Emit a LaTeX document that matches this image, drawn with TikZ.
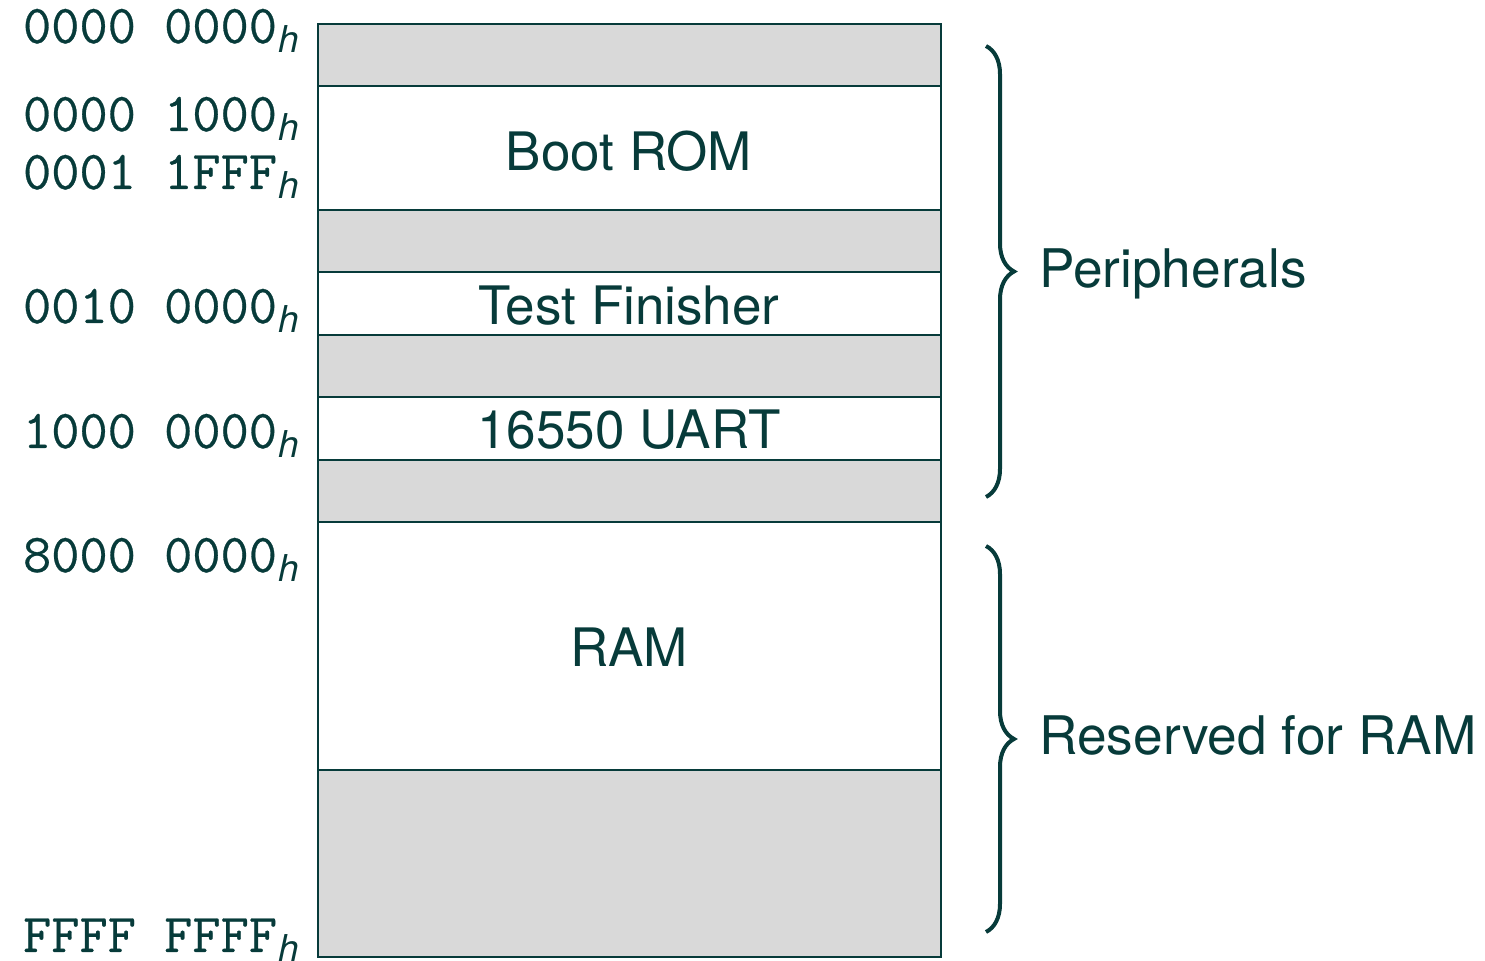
\documentclass[tikz,border=0pt]{standalone}
\usepackage{fontspec}
\setmainfont{TeX Gyre Heros}
\setmonofont{Latin Modern Mono}[FakeBold=0.5]
\usetikzlibrary{decorations.pathreplacing}
\definecolor{teal}{HTML}{073B3A}
\definecolor{gap}{HTML}{D9D9D9}
\newcommand{\hsub}{\kern0.5pt\raisebox{-5pt}{\fontsize{18.5}{20}\rmfamily\itshape\selectfont h}}
\tikzset{
  mem/.style={draw=teal, line width=1pt, anchor=north west, inner sep=0pt, outer sep=0pt, minimum width=311.5pt},
  freebox/.style={mem, fill=gap},
  usedbox/.style={mem, fill=white},
  addr/.style={anchor=base east, inner sep=0pt, text=teal, font=\fontsize{27.4}{30}\selectfont\ttfamily},
  lbl/.style={anchor=base, inner sep=0pt, text=teal, font=\fontsize{26.5}{30}\selectfont},
  side/.style={anchor=base west, inner sep=0pt, text=teal, font=\fontsize{26.6}{30}\selectfont},
  br/.style={draw=teal, line width=2pt, decorate, decoration={brace, amplitude=14pt}}
}
\begin{document}
\begin{tikzpicture}[x=0.5pt, y=-0.5pt]
\useasboundingbox (0,0) rectangle (1485,961);
% memory rows
\node[freebox, minimum height=31pt]  (r0) at (318,24)  {};
\node[usedbox, minimum height=62pt]  (r1) at (318,86)  {};
\node[freebox, minimum height=31pt]  (r2) at (318,210) {};
\node[usedbox, minimum height=31.5pt] (r3) at (318,272) {};
\node[freebox, minimum height=31pt]  (r4) at (318,335) {};
\node[usedbox, minimum height=31.5pt] (r5) at (318,397) {};
\node[freebox, minimum height=31pt]  (r6) at (318,460) {};
\node[usedbox, minimum height=124pt] (r7) at (318,522) {};
\node[freebox, minimum height=93.5pt] (r8) at (318,770) {};
% region labels
\node[lbl] (t1) at (629,171) {Boot ROM};
\node[lbl] (t3) at (629,325) {Test Finisher};
\node[lbl] (t5) at (629,449) {16550 UART};
\node[lbl] (t7) at (629,667) {RAM};
% addresses
\node[addr] (a0) at (299,43)  {0000 0000\hsub};
\node[addr] (a1) at (299,131) {0000 1000\hsub};
\node[addr] (a2) at (299,189) {0001 1FFF\hsub};
\node[addr] (a3) at (299,323) {0010 0000\hsub};
\node[addr] (a4) at (299,448) {1000 0000\hsub};
\node[addr] (a5) at (299,572) {8000 0000\hsub};
\node[addr] (a6) at (299,952) {FFFF FFFF\hsub};
% braces
\coordinate (p1) at (986,46);
\coordinate (p2) at (986,497);
\coordinate (q1) at (986,546);
\coordinate (q2) at (986,932);
\draw[br] (p1) -- (p2);
\draw[br] (q1) -- (q2);
\node[side] (per) at (1039,288) {Peripherals};
\node[side] (res) at (1039,755) {Reserved for RAM};
\end{tikzpicture}
\end{document}
